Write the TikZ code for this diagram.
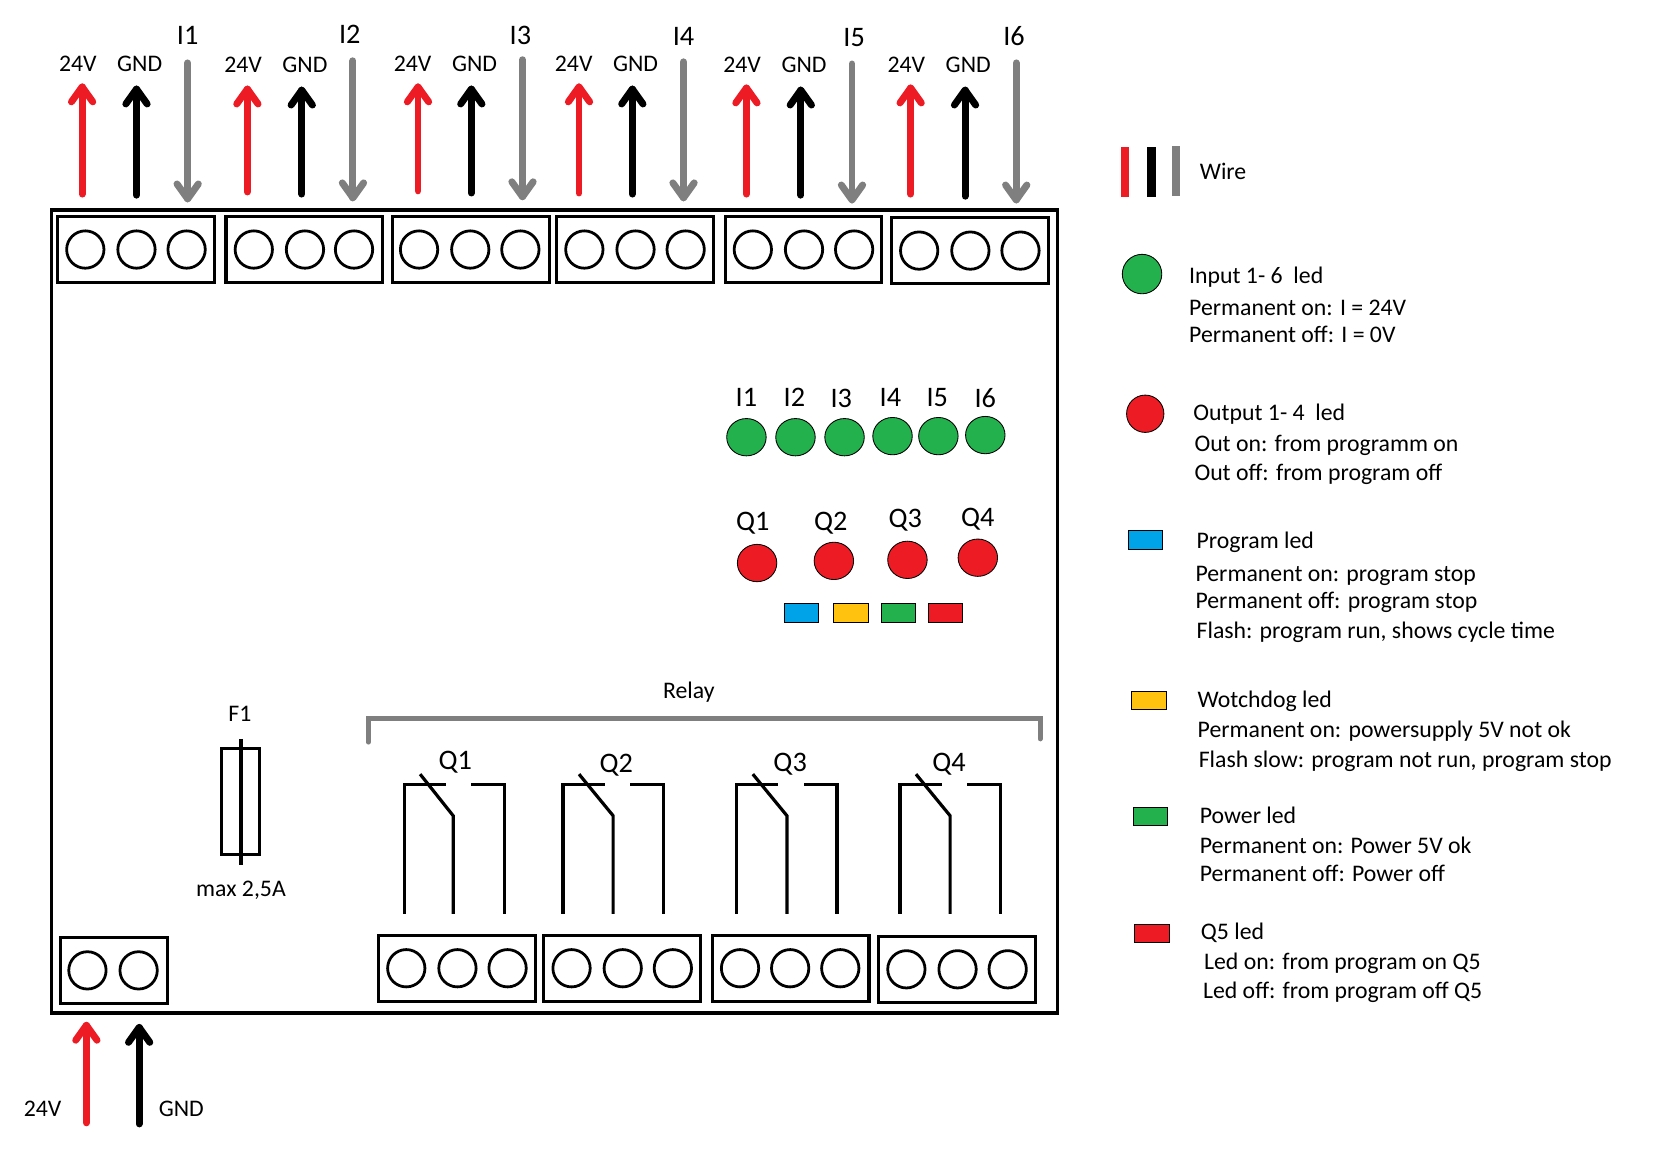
\documentclass[tikz,border=0pt]{standalone}
\usepackage{fontspec}
\setmainfont{Carlito}
\usetikzlibrary{shapes.geometric}
\definecolor{wred}{HTML}{ED1C24}
\definecolor{wblack}{HTML}{000000}
\definecolor{wgray}{HTML}{7F7F7F}
\definecolor{lgreen}{HTML}{22B14C}
\definecolor{lblue}{HTML}{00A2E8}
\definecolor{lyellow}{HTML}{FFC20E}
\tikzset{
  wireline/.style={line width=6.5pt,line cap=round,line join=round},
  termbox/.style={draw,line width=3pt,minimum width=147pt,minimum height=62pt,inner sep=0pt},
  pwrbox/.style={termbox,minimum width=100pt},
  hole/.style={draw,circle,line width=2.6pt,minimum size=35pt,inner sep=0pt},
  lbl/.style={font=\fontsize{22.3}{26}\selectfont,inner sep=0pt},
  biglbl/.style={font=\fontsize{26.5}{30}\selectfont,inner sep=0pt},
  legtxt/.style={lbl,anchor=west,text height=14pt,text depth=4pt},
  ledcirc/.style={draw,ellipse,line width=.8pt,inner sep=0pt,minimum width=37pt,minimum height=35pt},
  ledrect/.style={draw,line width=.8pt,minimum width=32pt,minimum height=17.5pt,inner sep=0pt},
  relayline/.style={line width=3pt,line cap=butt,line join=miter},
  legbar/.style={line width=8pt},
}
\begin{document}
\begin{tikzpicture}[x=1pt,y=-1pt]
\useasboundingbox (0,0) rectangle (1568,1079.4);
\node[draw,line width=3pt,minimum width=944pt,minimum height=753pt,inner sep=0pt] (main) at (520,573.5) {};
% terminals
\foreach \n/\cx/\cy/\a/\b/\c in {A/127.5/234/80/128/175,B/285.5/234/238/286/332,C/441.5/234/393/441/488,D/595.5/234/548/596/643,E/753.5/234/706/754/801,F/909.5/235/862/910/957,G/428.5/908/381/429/476,H/583.5/908/536/584/631,J/741.5/908/694/741/788,K/897.5/909/850/898/945}{
  \node[termbox] (T\n) at (\cx,\cy) {};
  \node[hole] (T\n a) at (\a,\cy) {};
  \node[hole] (T\n b) at (\b,\cy) {};
  \node[hole] (T\n c) at (\c,\cy) {};
}
\node[pwrbox] (TP) at (107,910) {};
\node[hole] (TPa) at (82,910) {};
\node[hole] (TPb) at (130,910) {};
% wire arrows
\foreach \n/\x/\ya/\yb/\col in {
 r1/77/185/78.5/wred,k1/128/186/80.5/wblack,g1/176/56/189.5/wgray,
 r2/232/183/80.5/wred,k2/283/185/81.5/wblack,g2/331/54/188.5/wgray,
 r3/392/182/78.5/wred,k3/442/184/80.5/wblack,g3/490/53/187.5/wgray,
 r4/543/184/78.5/wred,k4/593/185/80.5/wblack,g4/641/55/188.5/wgray,
 r5/700/185/79.5/wred,k5/751/186/81.5/wblack,g5/799/57/190.5/wgray,
 r6/854/185/79.5/wred,k6/905/187/81.5/wblack,g6/953/56/190.5/wgray,
 rp/81/1056/958.5/wred,kp/130.5/1057/960.5/wblack}{
  \pgfmathsetmacro{\dirn}{\ya>\yb ? 1 : -1}
  \pgfmathsetmacro{\ys}{\ya-3*\dirn}
  \pgfmathsetmacro{\ye}{\yb+3*\dirn}
  \coordinate (w\n s) at (\x,\ys);
  \coordinate (w\n e) at (\x,\ye);
  \draw[wireline,draw=\col] (w\n s) -- (w\n e);
  \draw[wireline,draw=\col] (w\n e) ++(-10,14*\dirn) -- (w\n e) -- ++(10,14*\dirn);
}
% labels
\foreach \n/\x/\y/\t in {a1/73/60/24V,b1/131/60/GND,a2/228/61/24V,b2/286/61/GND,a3/387/60/24V,b3/445/60/GND,a4/538/60/24V,b4/596/60/GND,a5/696/61/24V,b5/754/61/GND,a6/850/61/24V,b6/908/61/GND,a7/40/1040/24V,b7/170/1040/GND,fu/225/669/F1,ma/226/835/{max 2,5A},re/646/649/Relay}{
  \node[lbl] (L\n) at (\x,\y) {\t};
}
\foreach \n/\x/\y/\t in {i1/176/33/I1,i2/328/32/I2,i3/488/33/I3,i4/641/34/I4,i5/801/35/I5,i6/951/34/I6,
 j1/700/373/I1,j2/745/373/I2,j3/789/374/I3,j4/835/373/I4,j5/879/373/I5,j6/924/373/I6,
 q1/706/491/Q1,q2/779/491/Q2,q3/849/488/Q3,q4/917/487/Q4,
 s1/427/714.5/Q1,s2/578/717.5/Q2,s3/741/716.5/Q3,s4/890/716.5/Q4}{
  \node[biglbl] (L\n) at (\x,\y) {\t};
}
% leds
\foreach \n/\x/\y in {1/700/410,2/746/410,3/792/410,4/837/409,5/880/409,6/924/408}{
  \node[ledcirc,fill=lgreen] (GL\n) at (\x,\y) {};
}
\foreach \n/\x/\y in {1/710/528,2/782/526,3/851/525,4/917/523}{
  \node[ledcirc,fill=wred] (RL\n) at (\x,\y) {};
}
\node[ledrect,fill=lblue] (S1) at (751.5,574.5) {};
\node[ledrect,fill=lyellow] (S2) at (798,574.5) {};
\node[ledrect,fill=lgreen] (S3) at (842.5,574.5) {};
\node[ledrect,fill=wred] (S4) at (886.5,574.5) {};
% relay bracket
\draw[line width=4.5pt,draw=wgray,line cap=round,line join=miter] (345.5,696) -- (345.5,673.5) -- (975.5,673.5) -- (975.5,693);
% fuse
\node[draw,line width=3pt,minimum width=35pt,minimum height=99pt,inner sep=0pt] (fuse) at (225.5,751.5) {};
\draw[line width=3pt] (226,693) -- (226,811);
% relays
\foreach \n/\l/\m/\r in {1/379/425/473,2/528/575/622,3/691/738/785,4/844/891/938}{
  \draw[relayline] (\l,857) -- (\l,736) -- (\l+39,736);
  \draw[relayline] (\l+63,736) -- (\r,736) -- (\r,857);
  \draw[relayline] (\m,857) -- (\m,765) -- (\l+15,726);
}
% legend
\draw[legbar,draw=wred] (1055,138) -- (1055,185);
\draw[legbar,draw=wblack] (1080,138) -- (1080,185);
\draw[legbar,draw=wgray] (1103,137) -- (1103,184);
\node[draw,circle,fill=lgreen,line width=.8pt,minimum size=37pt,inner sep=0pt] (LG) at (1071,257) {};
\node[draw,circle,fill=wred,line width=.8pt,minimum size=35pt,inner sep=0pt] (LR) at (1074,388) {};
\node[ledrect,fill=lblue] (LB) at (1074.5,506.5) {};
\node[ledrect,fill=lyellow] (LY) at (1077.5,657) {};
\node[ledrect,fill=lgreen] (LP) at (1078.5,765.5) {};
\node[ledrect,fill=wred,minimum width=33pt] (LQ) at (1080.5,875.5) {};
\foreach \n/\x/\y/\t in {
 a/1125/161/Wire,
 b/1115/258/{Input 1- 6 \ led},c/1115/288/{Permanent on: I = 24V},d/1115/314/{Permanent off: I = 0V},
 e/1119/387/{Output 1- 4 \ led},f/1120/416/{Out on: from programm on},g/1120/443/{Out off: from program off},
 h/1122/507/{Program led},i/1121/538/{Permanent on: program stop},j/1121/563/{Permanent off: program stop},k/1122/591/{Flash: program run, shows cycle time},
 l/1123/656/{Wotchdog led},m/1123/684/{Permanent on: powersupply 5V not ok},n/1124/712/{Flash slow: program not run, program stop},
 o/1125/765/{Power led},p/1125/793/{Permanent on: Power 5V ok},q/1125/819/{Permanent off: Power off},
 r/1126/874/{Q5 led},s/1129/902/{Led on: from program on Q5},t/1128/929/{Led off: from program off Q5}}{
  \node[legtxt] (X\n) at (\x,\y+2.5) {\t};
}
\end{tikzpicture}
\end{document}
